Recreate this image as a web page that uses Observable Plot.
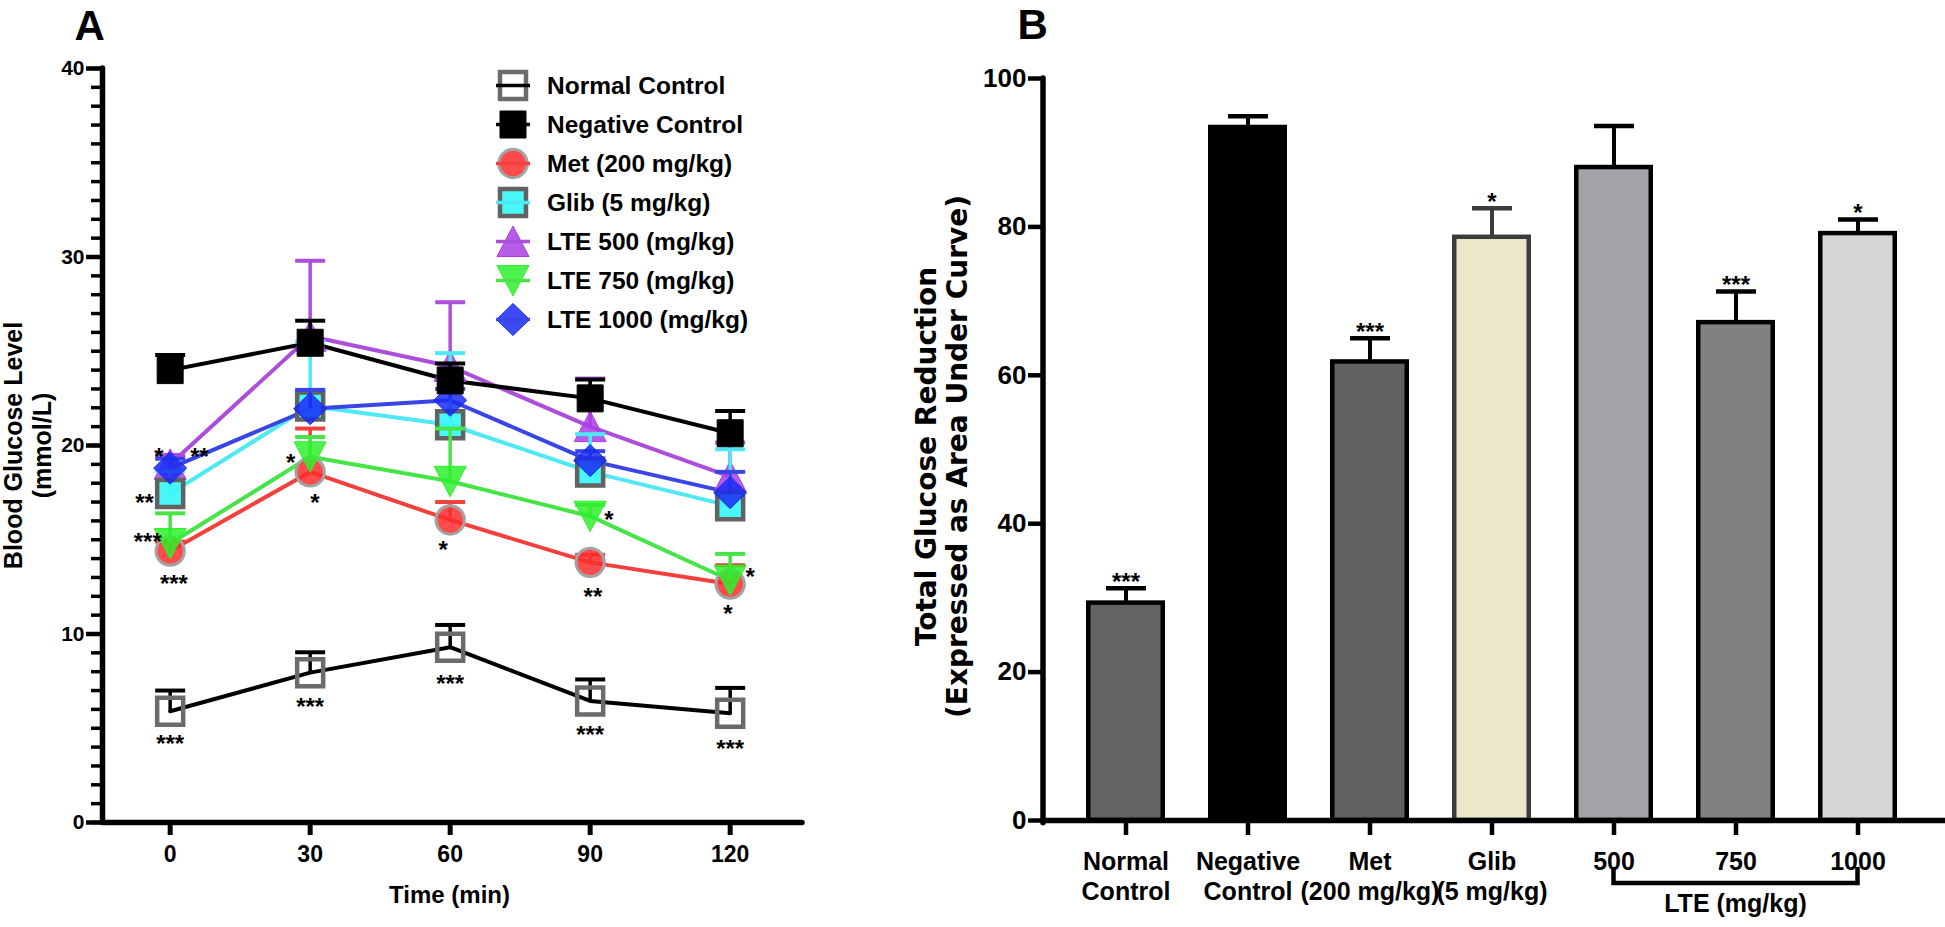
<!DOCTYPE html>
<html><head><meta charset="utf-8">
<script src="https://cdn.jsdelivr.net/npm/d3@7"></script>
<script src="https://cdn.jsdelivr.net/npm/@observablehq/plot@0.6"></script>
<style>
html,body{margin:0;padding:0;background:#fff;}
#wrap{position:relative;width:1945px;height:927px;overflow:hidden;font-family:"Liberation Sans",Arial,sans-serif;font-weight:bold;background:#fff;}
#panelA{position:absolute;left:0;top:0;}
#panelB{position:absolute;left:880px;top:0;}
#legendA{position:absolute;left:493px;top:66px;}
.lrow{display:flex;align-items:center;height:39px;}
.lrow svg{display:block;}
.lrow span{font-size:24.5px;margin-left:14px;white-space:nowrap;color:#000;}
</style></head>
<body><div id="wrap"><div id="panelA"></div><div id="panelB"></div><div id="legendA"></div></div>
<script>
// ---------- DATA: Panel A ----------
const times = [0, 30, 60, 90, 120];
const seriesNames = ["Normal Control", "Negative Control", "Met (200 mg/kg)", "Glib (5 mg/kg)", "LTE 500 (mg/kg)", "LTE 750 (mg/kg)", "LTE 1000 (mg/kg)"];
const normalMean   = [5.9, 7.95, 9.3, 6.45, 5.8];
const normalSem    = [1.1, 1.08, 1.18, 1.14, 1.34];
const negativeMean = [24.0, 25.45, 23.45, 22.5, 20.65];
const negativeSem  = [0.8, 1.17, 0.9, 1.0, 1.18];
const metMean      = [14.4, 18.6, 16.05, 13.8, 12.65];
const metSem       = [0.5, 2.3, 0.95, 0.4, 1.0];
const glibMean     = [17.45, 22.1, 21.1, 18.6, 16.8];
const glibSem      = [1.2, 3.4, 3.8, 2.0, 3.0];
const lte500Mean   = [19.0, 25.8, 24.2, 21.0, 18.35];
const lte500Sem    = [0.5, 4.0, 3.4, 2.55, 1.8];
const lte750Mean   = [14.8, 19.4, 18.1, 16.25, 12.85];
const lte750Sem    = [1.6, 1.05, 2.8, 0.6, 1.4];
const lte1000Mean  = [18.8, 21.95, 22.4, 19.2, 17.5];
const lte1000Sem   = [0.5, 1.0, 0.6, 0.5, 1.1];
const xTicksA = [0, 30, 60, 90, 120];
const yTicksA = [0, 10, 20, 30, 40];
const xDomainA = [-14.5, 135.5];
const yDomainA = [0, 40];
// significance marks (panel A)
const starTimeA  = [-2.4, 6.3, -5.5, -4.8, 0.8, 25.8, 31.0, 58.5, 94.0, 90.6, 124.3, 119.5, 0, 30, 60, 90, 120];
const starValueA = [19.7, 19.7, 17.26, 15.17, 12.98, 19.35, 17.26, 14.75, 16.34, 12.27, 13.33, 11.34, 4.44, 6.43, 7.64, 4.92, 4.18];
const starTextA  = ["*", "**", "**", "***", "***", "*", "*", "*", "*", "**", "*", "*", "***", "***", "***", "***", "***"];

// ---------- DATA: Panel B ----------
const groups     = ["Normal Control", "Negative Control", "Met", "Glib", "500", "750", "1000"];
const groupLabel = ["Normal\nControl", "Negative\nControl", "Met\n(200 mg/kg)", "Glib\n(5 mg/kg)", "500", "750", "1000"];
const aucMean    = [29.3, 93.4, 61.8, 78.6, 88.0, 67.1, 79.1];
const aucSem     = [2.0, 1.5, 3.2, 3.9, 5.6, 4.2, 1.9];
const aucStars   = ["***", "", "***", "*", "", "***", "*"];
const yTicksB    = [0, 20, 40, 60, 80, 100];
const yDomainB   = [0, 100];
const bracketFrom = "500", bracketTo = "1000", bracketLabel = "LTE (mg/kg)";

// ---------- STYLES ----------
const FONT = "'Liberation Sans', Arial, Helvetica, sans-serif";
const squareSym = {draw(c){ c.moveTo(-13,-13.5); c.lineTo(13,-13.5); c.lineTo(13,13.5); c.lineTo(-13,13.5); c.closePath(); }};
const circleSym = {draw(c){ c.moveTo(14.2,0); c.arc(0,0,14.2,0,2*Math.PI); c.closePath(); }};
const triUpSym  = {draw(c){ c.moveTo(0,-15.5); c.lineTo(16,15); c.lineTo(-16,15); c.closePath(); }};
const triDnSym  = {draw(c){ c.moveTo(0,15.5); c.lineTo(16,-15); c.lineTo(-16,-15); c.closePath(); }};
const diamondSym= {draw(c){ c.moveTo(0,-16); c.lineTo(16.5,0); c.lineTo(0,16); c.lineTo(-16.5,0); c.closePath(); }};
const capA = {draw(c){ c.moveTo(-15,0); c.lineTo(15,0); }};
const capB = {draw(c){ c.moveTo(-20,0); c.lineTo(20,0); }};

const seriesStyle = {
  "Normal Control":   {line:"#000000", sym:squareSym,  fill:"none",    op:1,    stroke:"#6b6b6b", sw:4.5},
  "Negative Control": {line:"#000000", sym:squareSym,  fill:"#000000", op:1,    stroke:"#000000", sw:1},
  "Met (200 mg/kg)":  {line:"#f2403c", sym:circleSym,  fill:"#ff2b2b", op:0.85, stroke:"#a3a3a3", sw:3},
  "Glib (5 mg/kg)":   {line:"#4fe8f5", sym:squareSym,  fill:"#38f6f6", op:0.92, stroke:"#626262", sw:4.5},
  "LTE 500 (mg/kg)":  {line:"#ad4ddb", sym:triUpSym,   fill:"#a93fe3", op:0.85, stroke:"#a93fe3", sw:1},
  "LTE 750 (mg/kg)":  {line:"#47e447", sym:triDnSym,   fill:"#2ef02e", op:0.85, stroke:"#2ef02e", sw:1},
  "LTE 1000 (mg/kg)": {line:"#3a45e6", sym:diamondSym, fill:"#1a2bf2", op:0.85, stroke:"#1a2bf2", sw:1}
};
const drawOrder = ["LTE 500 (mg/kg)", "Met (200 mg/kg)", "Glib (5 mg/kg)", "LTE 750 (mg/kg)", "LTE 1000 (mg/kg)", "Negative Control", "Normal Control"];
const barFill   = ["#636363", "#000000", "#616161", "#ece6cb", "#a3a2a7", "#818181", "#d5d5d5"];
const barStroke = ["#000000", "#000000", "#000000", "#3c3c3c", "#000000", "#000000", "#000000"];

// ---------- TABLES ----------
const seriesMeans = [normalMean, negativeMean, metMean, glibMean, lte500Mean, lte750Mean, lte1000Mean];
const seriesSems  = [normalSem, negativeSem, metSem, glibSem, lte500Sem, lte750Sem, lte1000Sem];
const rowsA = seriesNames.flatMap((s, i) => times.map((t, j) => ({series: s, time: t, mean: seriesMeans[i][j], sem: seriesSems[i][j]})));
const starsA = starTextA.map((t, i) => ({time: starTimeA[i], value: starValueA[i], text: t}));
const bars = groups.map((g, i) => ({group: g, label: groupLabel[i], mean: aucMean[i], sem: aucSem[i], stars: aucStars[i], fill: barFill[i], stroke: barStroke[i]}));

// ---------- PANEL A ----------
const lineMarks = drawOrder.map(s => Plot.line(rowsA.filter(r => r.series === s), {x: "time", y: "mean", stroke: seriesStyle[s].line, strokeWidth: 4, strokeLinejoin: "round"}));
const pointMarks = drawOrder.flatMap(s => {
  const st = seriesStyle[s];
  const d = rowsA.filter(r => r.series === s);
  return [
    Plot.ruleX(d, {x: "time", y1: "mean", y2: r => r.mean + r.sem, stroke: st.line, strokeWidth: 3.5}),
    Plot.dot(d, {x: "time", y: r => r.mean + r.sem, symbol: capA, fill: "none", stroke: st.line, strokeWidth: 4}),
    Plot.dot(d, {x: "time", y: "mean", symbol: st.sym, fill: st.fill, fillOpacity: st.op, stroke: st.stroke, strokeWidth: st.sw})
  ];
});

const plotA = Plot.plot({
  width: 880, height: 927,
  marginLeft: 102, marginRight: 78, marginTop: 68, marginBottom: 105,
  x: {domain: xDomainA, label: null},
  y: {domain: yDomainA, label: null},
  style: {fontFamily: FONT, fontWeight: "bold", background: "white", color: "black", overflow: "visible"},
  marks: [
    Plot.axisY({ticks: d3.range(yDomainA[0], yDomainA[1] + 1, 1), tickSize: 11, tickFormat: () => "", strokeWidth: 3.5, label: null}),
    Plot.axisY({ticks: yTicksA, tickSize: 16, tickPadding: 2, fontSize: 21, strokeWidth: 4.5, label: null}),
    Plot.axisX({ticks: xTicksA, tickSize: 13, tickPadding: 10, fontSize: 23, strokeWidth: 5, label: null}),
    ...lineMarks,
    ...pointMarks,
    Plot.text(starsA, {x: "time", y: "value", text: "text", fontSize: 24, lineAnchor: "middle", dy: 6}),
    Plot.ruleY([yDomainA[0]], {strokeWidth: 5.5, strokeLinecap: "round"}),
    Plot.ruleX([xDomainA[0]], {strokeWidth: 5.5, strokeLinecap: "round"}),
    Plot.text(["Time (min)"], {frameAnchor: "bottom", lineAnchor: "top", dy: 63, dx: -3, fontSize: 24}),
    Plot.text(["Blood Glucose Level\n(mmol/L)"], {frameAnchor: "left", rotate: -90, lineAnchor: "top", textAnchor: "middle", dx: -101, fontSize: 25, lineHeight: 1.16}),
    Plot.text(["A"], {frameAnchor: "top-left", textAnchor: "start", lineAnchor: "top", dx: -28, dy: -58, fontSize: 42})
  ]
});
document.getElementById("panelA").appendChild(plotA);

// legend A
const legend = d3.select("#legendA");
seriesNames.forEach(s => {
  const st = seriesStyle[s];
  const row = legend.append("div").attr("class", "lrow");
  const svg = row.append("svg").attr("width", 40).attr("height", 39);
  const g = svg.append("g").attr("transform", "translate(20,19.5)");
  g.append("path").attr("d", d3.symbol(st.sym, 64)()).attr("fill", st.fill).attr("fill-opacity", st.op).attr("stroke", st.stroke).attr("stroke-width", st.sw);
  g.append("line").attr("x1", -17).attr("x2", 17).attr("y1", 0).attr("y2", 0).attr("stroke", st.line).attr("stroke-width", 3.5);
  row.append("span").text(s);
});

// ---------- PANEL B ----------
const plotB = Plot.plot({
  width: 1065, height: 927,
  marginLeft: 163, marginRight: 0, marginTop: 78, marginBottom: 107,
  x: {domain: groups, paddingInner: 0.354, paddingOuter: 0.3645, align: 0.47, label: null},
  y: {domain: yDomainB, label: null},
  color: {type: "identity"},
  style: {fontFamily: FONT, fontWeight: "bold", background: "white", color: "black", overflow: "visible"},
  marks: [
    Plot.barY(bars, {x: "group", y: "mean", fill: "fill", stroke: "stroke", strokeWidth: 4.5, insetLeft: 2.25, insetRight: 2.25}),
    Plot.ruleX(bars, {x: "group", y1: "mean", y2: d => d.mean + d.sem, stroke: "stroke", strokeWidth: 4}),
    Plot.dot(bars, {x: "group", y: d => d.mean + d.sem, symbol: capB, fill: "none", stroke: "stroke", strokeWidth: 4.5}),
    Plot.text(bars, {x: "group", y: d => d.mean + d.sem, text: "stars", fontSize: 24, lineAnchor: "middle", dy: -6}),
    Plot.axisX({tickSize: 15, tickFormat: () => "", strokeWidth: 4.5, label: null}),
    Plot.axisY({ticks: yTicksB, tickSize: 15, tickPadding: 2, fontSize: 26, strokeWidth: 4.5, label: null}),
    Plot.text(bars, {x: "group", text: "label", frameAnchor: "bottom", lineAnchor: "top", dy: 28, fontSize: 25, lineHeight: 1.2}),
    Plot.ruleY([yDomainB[0]], {strokeWidth: 5.5}),
    Plot.text(["Total Glucose Reduction\n(Expressed as Area Under Curve)"], {frameAnchor: "left", rotate: -90, lineAnchor: "top", textAnchor: "middle", dx: -129, dy: 7, fontSize: 28, lineHeight: 1.1, fontFamily: "'DejaVu Sans', sans-serif"}),
    Plot.text(["B"], {frameAnchor: "top-left", textAnchor: "start", lineAnchor: "top", dx: -26, dy: -69, fontSize: 42})
  ]
});
document.getElementById("panelB").appendChild(plotB);

// left axis line + bracket for LTE doses, positioned from the plot's own scales
const xs = plotB.scale("x"), ys = plotB.scale("y");
const svgB = d3.select(plotB);
const yBase = ys.apply(yDomainB[0]);
const xLeft = xs.range[0];
svgB.append("line").attr("x1", xLeft).attr("x2", xLeft).attr("y1", yBase + 2.7).attr("y2", ys.apply(yDomainB[1]))
  .attr("stroke", "black").attr("stroke-width", 5.5).attr("stroke-linecap", "round");
const cx = g => xs.apply(g) + xs.bandwidth / 2;
const xa = cx(bracketFrom), xb = cx(bracketTo);
svgB.append("path").attr("d", `M${xa},${yBase + 47}V${yBase + 63}H${xb}V${yBase + 47}`)
  .attr("fill", "none").attr("stroke", "black").attr("stroke-width", 4.5);
svgB.append("text").attr("x", (xa + xb) / 2).attr("y", yBase + 92).attr("text-anchor", "middle")
  .attr("font-size", 25).attr("font-weight", "bold").attr("font-family", FONT).attr("fill", "black").text(bracketLabel);
</script></body></html>
